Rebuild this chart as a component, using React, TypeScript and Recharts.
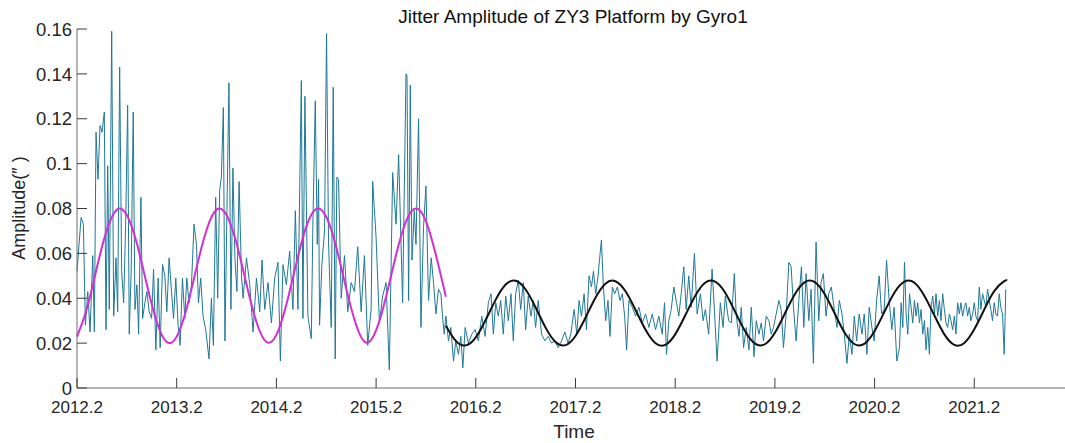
import { LineChart, Line, XAxis, YAxis } from 'recharts'

// tick positions / labels
const xTicks = [2012.2, 2013.2, 2014.2, 2015.2, 2016.2, 2017.2, 2018.2, 2019.2, 2020.2, 2021.2]
const yTicks = [0, 0.02, 0.04, 0.06, 0.08, 0.1, 0.12, 0.14, 0.16]

// measured jitter amplitude, [year, amplitude]
const jitterEarly: [number, number][] = [
  [2012.2, 0.052], [2012.241, 0.076], [2012.264, 0.073], [2012.284, 0.028], [2012.308, 0.043],
  [2012.331, 0.025], [2012.358, 0.059], [2012.374, 0.025], [2012.391, 0.114], [2012.411, 0.093],
  [2012.431, 0.117], [2012.451, 0.114], [2012.474, 0.123], [2012.491, 0.026], [2012.508, 0.099],
  [2012.524, 0.035], [2012.548, 0.159], [2012.568, 0.032], [2012.591, 0.058], [2012.608, 0.034],
  [2012.628, 0.143], [2012.648, 0.052], [2012.668, 0.038], [2012.688, 0.073], [2012.708, 0.126],
  [2012.724, 0.024], [2012.744, 0.053], [2012.764, 0.123], [2012.781, 0.035], [2012.801, 0.046],
  [2012.818, 0.024], [2012.841, 0.085], [2012.858, 0.031], [2012.881, 0.038], [2012.901, 0.043],
  [2012.924, 0.034], [2012.948, 0.031], [2012.968, 0.053], [2012.991, 0.017], [2013.014, 0.049],
  [2013.034, 0.018], [2013.058, 0.055], [2013.081, 0.05], [2013.101, 0.034], [2013.124, 0.058],
  [2013.148, 0.043], [2013.168, 0.031], [2013.191, 0.049], [2013.214, 0.028], [2013.234, 0.019],
  [2013.258, 0.049], [2013.281, 0.031], [2013.301, 0.049], [2013.324, 0.038], [2013.348, 0.046],
  [2013.374, 0.073], [2013.398, 0.064], [2013.418, 0.038], [2013.441, 0.049], [2013.464, 0.032],
  [2013.491, 0.026], [2013.524, 0.013], [2013.548, 0.04], [2013.568, 0.019], [2013.591, 0.085],
  [2013.611, 0.04], [2013.631, 0.088], [2013.648, 0.094], [2013.668, 0.125], [2013.684, 0.021],
  [2013.704, 0.079], [2013.724, 0.136], [2013.744, 0.035], [2013.764, 0.098], [2013.784, 0.058],
  [2013.804, 0.043], [2013.826, 0.092], [2013.85, 0.05], [2013.866, 0.04], [2013.9, 0.058],
  [2013.933, 0.046], [2013.966, 0.025], [2014.0, 0.049], [2014.033, 0.034], [2014.056, 0.057],
  [2014.083, 0.035], [2014.116, 0.047], [2014.15, 0.029], [2014.183, 0.049], [2014.216, 0.056],
  [2014.24, 0.012], [2014.266, 0.055], [2014.3, 0.046], [2014.333, 0.061], [2014.366, 0.035],
  [2014.39, 0.079], [2014.416, 0.035], [2014.45, 0.137], [2014.466, 0.031], [2014.486, 0.13],
  [2014.516, 0.032], [2014.55, 0.022], [2014.566, 0.073], [2014.59, 0.128], [2014.61, 0.064],
  [2014.623, 0.093], [2014.633, 0.028], [2014.656, 0.055], [2014.683, 0.07], [2014.703, 0.158],
  [2014.723, 0.065], [2014.75, 0.027], [2014.77, 0.134], [2014.79, 0.013], [2014.806, 0.094],
  [2014.823, 0.093], [2014.85, 0.04], [2014.883, 0.059], [2014.916, 0.034], [2014.95, 0.047],
  [2014.983, 0.043], [2015.016, 0.063], [2015.05, 0.034], [2015.083, 0.059], [2015.116, 0.019],
  [2015.15, 0.035], [2015.166, 0.092], [2015.2, 0.067], [2015.233, 0.029], [2015.266, 0.041],
  [2015.3, 0.047], [2015.333, 0.008], [2015.366, 0.096], [2015.4, 0.073], [2015.426, 0.104],
  [2015.466, 0.038], [2015.5, 0.14], [2015.51, 0.139], [2015.526, 0.039], [2015.543, 0.135],
  [2015.56, 0.057], [2015.583, 0.079], [2015.6, 0.064], [2015.626, 0.12], [2015.65, 0.027],
  [2015.676, 0.072], [2015.7, 0.09], [2015.726, 0.039], [2015.753, 0.058], [2015.776, 0.047],
  [2015.8, 0.033], [2015.826, 0.044], [2015.85, 0.042], [2015.866, 0.032], [2015.883, 0.024],
]

const jitterLate: [number, number][] = [
  [2015.9, 0.032], [2015.926, 0.021], [2015.95, 0.027], [2015.976, 0.012], [2016.0, 0.021],
  [2016.026, 0.015], [2016.05, 0.023], [2016.07, 0.009], [2016.093, 0.027], [2016.126, 0.02],
  [2016.16, 0.024], [2016.193, 0.026], [2016.226, 0.021], [2016.26, 0.032], [2016.293, 0.023],
  [2016.326, 0.038], [2016.353, 0.042], [2016.376, 0.024], [2016.4, 0.038], [2016.426, 0.032],
  [2016.45, 0.039], [2016.476, 0.024], [2016.5, 0.041], [2016.526, 0.03], [2016.553, 0.042],
  [2016.576, 0.021], [2016.6, 0.042], [2016.626, 0.048], [2016.65, 0.035], [2016.676, 0.047],
  [2016.7, 0.026], [2016.726, 0.041], [2016.753, 0.032], [2016.776, 0.039], [2016.8, 0.027],
  [2016.826, 0.039], [2016.86, 0.024], [2016.893, 0.021], [2016.926, 0.023], [2016.96, 0.02],
  [2016.993, 0.021], [2017.026, 0.018], [2017.06, 0.021], [2017.093, 0.025], [2017.126, 0.02],
  [2017.153, 0.024], [2017.186, 0.035], [2017.213, 0.024], [2017.236, 0.039], [2017.26, 0.032],
  [2017.286, 0.042], [2017.31, 0.026], [2017.336, 0.05], [2017.36, 0.045], [2017.38, 0.052],
  [2017.403, 0.042], [2017.426, 0.05], [2017.46, 0.066], [2017.48, 0.045], [2017.503, 0.03],
  [2017.526, 0.039], [2017.546, 0.023], [2017.57, 0.045], [2017.593, 0.042], [2017.62, 0.045],
  [2017.646, 0.039], [2017.67, 0.042], [2017.693, 0.032], [2017.713, 0.017], [2017.736, 0.039],
  [2017.77, 0.036], [2017.803, 0.032], [2017.836, 0.036], [2017.87, 0.029], [2017.903, 0.033],
  [2017.936, 0.027], [2017.97, 0.033], [2018.003, 0.026], [2018.036, 0.032], [2018.07, 0.024],
  [2018.093, 0.038], [2018.113, 0.015], [2018.136, 0.03], [2018.16, 0.035], [2018.186, 0.045],
  [2018.213, 0.038], [2018.236, 0.032], [2018.26, 0.042], [2018.286, 0.054], [2018.31, 0.035],
  [2018.336, 0.05], [2018.36, 0.036], [2018.393, 0.06], [2018.42, 0.033], [2018.453, 0.042],
  [2018.48, 0.03], [2018.503, 0.035], [2018.536, 0.024], [2018.57, 0.053], [2018.593, 0.035],
  [2018.62, 0.012], [2018.653, 0.038], [2018.68, 0.027], [2018.703, 0.041], [2018.736, 0.03],
  [2018.763, 0.029], [2018.793, 0.051], [2018.813, 0.032], [2018.84, 0.023], [2018.863, 0.036],
  [2018.886, 0.018], [2018.913, 0.027], [2018.94, 0.017], [2018.963, 0.036], [2018.99, 0.014],
  [2019.013, 0.03], [2019.04, 0.024], [2019.063, 0.029], [2019.086, 0.021], [2019.113, 0.032],
  [2019.14, 0.03], [2019.163, 0.024], [2019.186, 0.027], [2019.213, 0.033], [2019.24, 0.039],
  [2019.263, 0.035], [2019.286, 0.018], [2019.313, 0.033], [2019.34, 0.056], [2019.363, 0.054],
  [2019.386, 0.036], [2019.413, 0.021], [2019.44, 0.039], [2019.466, 0.054], [2019.49, 0.027],
  [2019.513, 0.051], [2019.54, 0.03], [2019.563, 0.044], [2019.586, 0.011], [2019.613, 0.065],
  [2019.64, 0.03], [2019.663, 0.047], [2019.686, 0.051], [2019.713, 0.032], [2019.74, 0.042],
  [2019.766, 0.045], [2019.796, 0.035], [2019.823, 0.027], [2019.846, 0.039], [2019.873, 0.033],
  [2019.896, 0.024], [2019.923, 0.011], [2019.946, 0.024], [2019.973, 0.015], [2019.996, 0.032],
  [2020.02, 0.021], [2020.046, 0.033], [2020.073, 0.024], [2020.096, 0.033], [2020.123, 0.015],
  [2020.146, 0.036], [2020.173, 0.027], [2020.196, 0.021], [2020.22, 0.039], [2020.246, 0.05],
  [2020.27, 0.033], [2020.296, 0.035], [2020.32, 0.057], [2020.346, 0.039], [2020.373, 0.026],
  [2020.396, 0.036], [2020.423, 0.012], [2020.45, 0.018], [2020.466, 0.038], [2020.483, 0.027],
  [2020.5, 0.056], [2020.516, 0.033], [2020.533, 0.024], [2020.55, 0.042], [2020.566, 0.036],
  [2020.583, 0.029], [2020.6, 0.039], [2020.616, 0.032], [2020.633, 0.038], [2020.65, 0.029],
  [2020.666, 0.035], [2020.683, 0.024], [2020.7, 0.03], [2020.716, 0.017], [2020.733, 0.027],
  [2020.75, 0.015], [2020.766, 0.036], [2020.783, 0.041], [2020.8, 0.033], [2020.816, 0.042],
  [2020.833, 0.032], [2020.85, 0.039], [2020.866, 0.03], [2020.883, 0.042], [2020.9, 0.035],
  [2020.916, 0.029], [2020.933, 0.027], [2020.95, 0.033], [2020.966, 0.03], [2020.983, 0.026],
  [2021.0, 0.032], [2021.016, 0.024], [2021.033, 0.038], [2021.05, 0.033], [2021.066, 0.038],
  [2021.083, 0.032], [2021.1, 0.036], [2021.116, 0.038], [2021.133, 0.032], [2021.15, 0.036],
  [2021.166, 0.03], [2021.183, 0.033], [2021.2, 0.038], [2021.216, 0.032], [2021.233, 0.03],
  [2021.25, 0.045], [2021.266, 0.035], [2021.283, 0.042], [2021.3, 0.039], [2021.316, 0.036],
  [2021.333, 0.044], [2021.35, 0.039], [2021.366, 0.035], [2021.383, 0.03], [2021.4, 0.038],
  [2021.416, 0.033], [2021.433, 0.032], [2021.45, 0.042], [2021.466, 0.036], [2021.483, 0.033],
  [2021.5, 0.015], [2021.516, 0.044],
]

// fitted annual terms
const fitBefore: [number, number][] = [
  [2012.2, 0.0229], [2012.3, 0.0355], [2012.4, 0.0538], [2012.5, 0.0705], [2012.6, 0.0795],
  [2012.7, 0.0771], [2012.8, 0.0645], [2012.9, 0.0462], [2013.0, 0.0294], [2013.1, 0.0205],
  [2013.2, 0.0229], [2013.3, 0.0355], [2013.4, 0.0538], [2013.5, 0.0705], [2013.6, 0.0795],
  [2013.7, 0.0771], [2013.8, 0.0645], [2013.9, 0.0462], [2014.0, 0.0294], [2014.1, 0.0205],
  [2014.2, 0.0237], [2014.3, 0.0372], [2014.4, 0.0556], [2014.5, 0.0719], [2014.6, 0.0798],
  [2014.7, 0.0763], [2014.8, 0.0628], [2014.9, 0.0444], [2015.0, 0.0281], [2015.1, 0.0202],
  [2015.2, 0.0257], [2015.3, 0.0407], [2015.4, 0.0593], [2015.5, 0.0743], [2015.6, 0.08],
  [2015.7, 0.0743], [2015.8, 0.0593], [2015.9, 0.0407],
]

const fitAfter: [number, number][] = [
  [2015.9, 0.0278], [2016.0, 0.021], [2016.1, 0.019], [2016.2, 0.0226], [2016.3, 0.0304],
  [2016.4, 0.0394], [2016.5, 0.0461], [2016.6, 0.0478], [2016.7, 0.0439], [2016.8, 0.0359],
  [2016.9, 0.0269], [2017.0, 0.0205], [2017.1, 0.0191], [2017.2, 0.0232], [2017.3, 0.0313],
  [2017.4, 0.0402], [2017.5, 0.0465], [2017.6, 0.0476], [2017.7, 0.0432], [2017.8, 0.035],
  [2017.9, 0.0262], [2018.0, 0.0201], [2018.1, 0.0192], [2018.2, 0.0239], [2018.3, 0.0323],
  [2018.4, 0.041], [2018.5, 0.0469], [2018.6, 0.0474], [2018.7, 0.0426], [2018.8, 0.0341],
  [2018.9, 0.0254], [2019.0, 0.0198], [2019.1, 0.0195], [2019.2, 0.0246], [2019.3, 0.0332],
  [2019.4, 0.0418], [2019.5, 0.0472], [2019.6, 0.0472], [2019.7, 0.0418], [2019.8, 0.0332],
  [2019.9, 0.0246], [2020.0, 0.0195], [2020.1, 0.0198], [2020.2, 0.0254], [2020.3, 0.0341],
  [2020.4, 0.0426], [2020.5, 0.0474], [2020.6, 0.0469], [2020.7, 0.041], [2020.8, 0.0323],
  [2020.9, 0.0239], [2021.0, 0.0192], [2021.1, 0.0201], [2021.2, 0.0262], [2021.3, 0.035],
  [2021.4, 0.0432], [2021.5, 0.0476], [2021.53, 0.0479],
]

const toRows = (pts: [number, number][]) => pts.map(([t, v]) => ({ t, v }))
const jitterData = toRows([...jitterEarly, ...jitterLate])
const fitBeforeData = toRows(fitBefore)
const fitAfterData = toRows(fitAfter)

const font = '"Liberation Sans", Arial, Helvetica, sans-serif'
const textColor = '#262626'
const boxColor = '#6e6e6e'
const tickColor = '#3a3a3a'
const TICK = 10

const BottomTick = (props: any) => {
  const { x, y, payload } = props
  return (
    <g>
      <line x1={x} y1={y} x2={x} y2={y - TICK} stroke={tickColor} strokeWidth={1} />
      <text x={x} y={y + 25} textAnchor="middle" fontSize={17} fontFamily={font} fill={textColor}>
        {payload.value}
      </text>
    </g>
  )
}

const TopTick = (props: any) => {
  const { x, y } = props
  return <line x1={x} y1={y} x2={x} y2={y + TICK} stroke={tickColor} strokeWidth={1} />
}

const LeftTick = (props: any) => {
  const { x, y, payload } = props
  return (
    <g>
      <line x1={x} y1={y} x2={x + TICK} y2={y} stroke={tickColor} strokeWidth={1} />
      <text x={x - 5} y={y} dy="0.36em" textAnchor="end" fontSize={18.5} fontFamily={font} fill={textColor}>
        {payload.value}
      </text>
    </g>
  )
}

const RightTick = (props: any) => {
  const { x, y } = props
  return <line x1={x} y1={y} x2={x - TICK} y2={y} stroke={tickColor} strokeWidth={1} />
}

const xDomain: [number, number] = [2012.2, 2022.16]
const yDomain: [number, number] = [0, 0.16]

export default function App() {
  return (
    <div
      style={{
        position: 'absolute',
        left: 0,
        top: 0,
        width: 1065,
        height: 443,
        overflow: 'hidden',
        background: '#fff',
      }}
    >
      <LineChart width={1080} height={443} margin={{ top: 29, right: 9, bottom: 0, left: 0 }}>
        <XAxis
          xAxisId="b"
          type="number"
          dataKey="t"
          domain={xDomain}
          ticks={xTicks}
          interval={0}
          height={55}
          tickSize={0}
          tickMargin={0}
          tickLine={false}
          tick={<BottomTick />}
          axisLine={{ stroke: boxColor }}
        />
        <XAxis
          xAxisId="top"
          orientation="top"
          type="number"
          dataKey="t"
          domain={xDomain}
          ticks={xTicks}
          interval={0}
          height={0}
          tickSize={0}
          tickMargin={0}
          tickLine={false}
          tick={<TopTick />}
          axisLine={{ stroke: boxColor }}
        />
        <YAxis
          yAxisId="l"
          type="number"
          domain={yDomain}
          ticks={yTicks}
          interval={0}
          width={77}
          tickSize={0}
          tickMargin={0}
          tickLine={false}
          tick={<LeftTick />}
          axisLine={{ stroke: boxColor }}
        />
        <YAxis
          yAxisId="r"
          orientation="right"
          type="number"
          domain={yDomain}
          ticks={yTicks}
          interval={0}
          width={1}
          tickSize={0}
          tickMargin={0}
          tickLine={false}
          tick={<RightTick />}
          axisLine={{ stroke: boxColor }}
        />
        <Line
          xAxisId="b"
          yAxisId="l"
          data={jitterData}
          dataKey="v"
          type="linear"
          stroke="#1f7896"
          strokeWidth={1}
          dot={false}
          isAnimationActive={false}
        />
        <Line
          xAxisId="b"
          yAxisId="l"
          data={fitBeforeData}
          dataKey="v"
          type="natural"
          stroke="#d12fd1"
          strokeWidth={2}
          dot={false}
          isAnimationActive={false}
        />
        <Line
          xAxisId="b"
          yAxisId="l"
          data={fitAfterData}
          dataKey="v"
          type="natural"
          stroke="#111111"
          strokeWidth={2}
          dot={false}
          isAnimationActive={false}
        />
      </LineChart>
      <svg
        width={1065}
        height={443}
        style={{ position: 'absolute', left: 0, top: 0, pointerEvents: 'none' }}
      >
        <text x={573} y={23} textAnchor="middle" fontSize={19} fontFamily={font} fill="#111">
          Jitter Amplitude of ZY3 Platform by Gyro1
        </text>
        <text x={574} y={438} textAnchor="middle" fontSize={19} fontFamily={font} fill={textColor}>
          Time
        </text>
        <text
          transform="translate(25,208) rotate(-90)"
          textAnchor="middle"
          fontSize={18}
          fontFamily={font}
          fill={textColor}
        >
          Amplitude(″ )
        </text>
      </svg>
    </div>
  )
}
